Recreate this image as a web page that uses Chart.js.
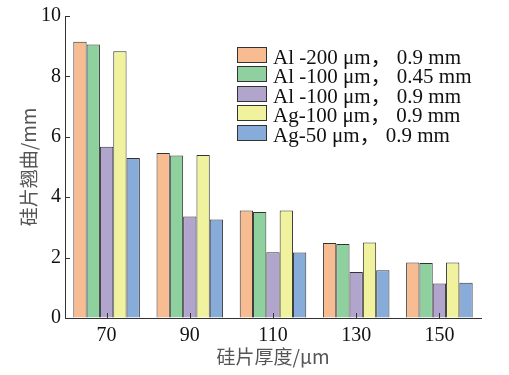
<!DOCTYPE html>
<html>
<head>
<meta charset="utf-8">
<script src="https://cdn.jsdelivr.net/npm/chart.js@4"></script>
<style>
  body { margin: 0; background: #fff; }
  #wrap { position: relative; width: 509px; height: 375px; }
  #legenda { position: absolute; left: 237px; top: 45px; font-family: "Liberation Serif", "Noto Sans CJK SC", serif; font-size: 21px; color: #111; }
  .item { display: flex; align-items: center; height: 19.5px; white-space: nowrap; }
  .caixa { width: 28px; height: 14px; border: 1px solid #333; margin-right: 6px; }
</style>
</head>
<body>
<div id="wrap">
  <canvas id="grafico" width="509" height="375"></canvas>
  <div id="legenda"></div>
</div>
<script>
const espessuras = ["70", "90", "110", "130", "150"]
const series = ["Al -200 μm， 0.9 mm", "Al -100 μm， 0.45 mm", "Al -100 μm， 0.9 mm", "Ag-100 μm， 0.9 mm", "Ag-50 μm， 0.9 mm"]
const cores = ["#F7BC92", "#8FD19E", "#B1A5CE", "#F1F29E", "#87ACD9"]
const al200_09 = [9.15, 5.46, 3.56, 2.48, 1.84]
const al100_045 = [9.06, 5.38, 3.51, 2.45, 1.82]
const al100_09 = [5.67, 3.36, 2.18, 1.52, 1.14]
const ag100_09 = [8.83, 5.40, 3.56, 2.50, 1.84]
const ag50_09 = [5.30, 3.26, 2.17, 1.58, 1.17]
const valores = [al200_09, al100_045, al100_09, ag100_09, ag50_09]

const fonteSerif = "'Liberation Serif', 'Times New Roman', serif"

// legenda em html
const legenda = document.querySelector('#legenda')
series.forEach((nome, i) => {
    const item = document.createElement('div')
    item.className = 'item'
    item.innerHTML = `<span class="caixa" style="background:${cores[i]}"></span><span style="white-space:pre">${nome}</span>`
    legenda.appendChild(item)
})

// ticks desenhados para dentro
const ticksInternos = {
    id: 'ticksInternos',
    afterDraw(chart) {
        const ctx = chart.ctx
        const x = chart.scales.x
        const y = chart.scales.y
        ctx.save()
        ctx.strokeStyle = '#333'
        ctx.lineWidth = 1
        ctx.beginPath()
        y.ticks.forEach((t, i) => {
            const py = Math.round(y.getPixelForTick(i)) + 0.5
            ctx.moveTo(chart.chartArea.left, py)
            ctx.lineTo(chart.chartArea.left + 5, py)
        })
        x.ticks.forEach((t, i) => {
            const px = Math.round(x.getPixelForTick(i)) + 0.5
            ctx.moveTo(px, chart.chartArea.bottom)
            ctx.lineTo(px, chart.chartArea.bottom - 5)
        })
        ctx.stroke()
        ctx.restore()
    }
}

let graficoEmpenamento = new Chart(
    document.getElementById("grafico"),
    {
        type: "bar",
        data: {
            labels: espessuras,
            datasets: valores.map((dados, i) => ({
                label: series[i],
                data: dados,
                backgroundColor: cores[i],
                borderColor: "#333",
                borderWidth: 1,
                barPercentage: 1,
                categoryPercentage: 0.8,
            }))
        },
        options: {
            responsive: false,
            animation: false,
            layout: { padding: { top: 16, right: 28, left: 0, bottom: 0 } },
            plugins: {
                legend: { display: false },
                tooltip: { enabled: false }
            },
            scales: {
                x: {
                    grid: { display: true, drawOnChartArea: false, drawTicks: false },
                    border: { color: "#333", width: 1 },
                    ticks: { color: "#111", font: { family: fonteSerif, size: 20 }, padding: 6 },
                    title: { display: true, text: "硅片厚度/μm", color: "#555", font: { family: "'Noto Sans CJK SC', sans-serif", size: 19 }, padding: { top: 0, bottom: 7 } },
                    afterFit: scale => { scale.height = 57 }
                },
                y: {
                    min: 0,
                    max: 10,
                    grid: { display: true, drawOnChartArea: false, drawTicks: false },
                    border: { color: "#333", width: 1 },
                    ticks: { stepSize: 2, color: "#111", font: { family: fonteSerif, size: 20 }, padding: 4 },
                    title: { display: true, text: "硅片翘曲/mm", color: "#555", font: { family: "'Noto Sans CJK SC', sans-serif", size: 19 }, padding: { top: 17, bottom: 0 } },
                    afterFit: scale => { scale.width = 65 }
                }
            }
        },
        plugins: [ticksInternos]
    }
)
</script>
</body>
</html>
